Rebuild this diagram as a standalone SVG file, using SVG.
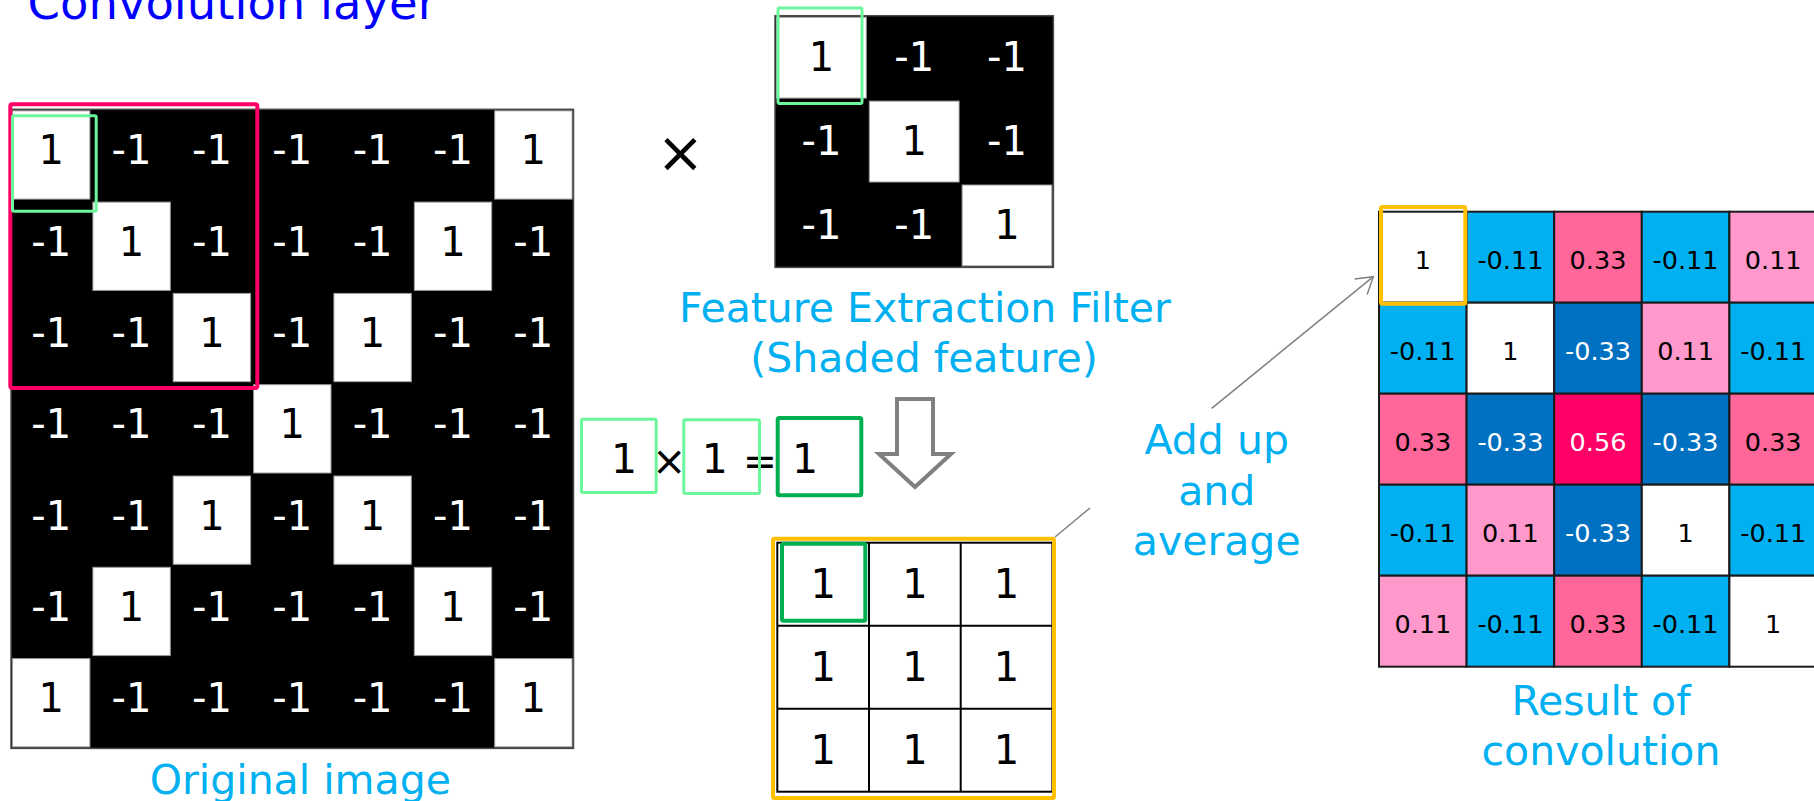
<svg xmlns="http://www.w3.org/2000/svg" width="1814" height="801" viewBox="0 0 1814 801">
  <defs>
    <style>
      text{font-family:"DejaVu Sans",Verdana,sans-serif}
      .d{font-size:40px;text-anchor:middle}
      .on{fill:#000}
      .off{fill:#fff}
      .cellW{fill:#fff;stroke:#9a9a9a;stroke-width:1}
      .gridBg{fill:#000;stroke:#4a4a4a;stroke-width:1.5}
      .lbl{font-size:41px;fill:#00B0F0;text-anchor:middle}
      .r{font-size:25.5px;text-anchor:middle}
      .rc{stroke:#1a1a1a;stroke-width:2}
      .white{fill:#fff}.lb{fill:#00B0F0}.db{fill:#0070C0}.pm{fill:#FF6699}.lp{fill:#FF99CC}.hp{fill:#FF0066}
      .hlPink{fill:none;stroke:#FF0066;stroke-width:4}
      .hlLight{fill:none;stroke:#6CF79C;stroke-width:3}
      .hlDark{fill:none;stroke:#00B050;stroke-width:4}
      .hlGold{fill:none;stroke:#FFC000;stroke-width:4}
      .conn{fill:none;stroke:#808080;stroke-width:1.5}
    </style>
    <marker id="openHead" markerUnits="userSpaceOnUse" markerWidth="20" markerHeight="22" refX="17.1" refY="11" orient="auto">
      <path d="M1,1 L17.1,11 L1,21" fill="none" stroke="#808080" stroke-width="1.5"/>
    </marker>
  </defs>

  <rect width="1814" height="801" fill="#fff"/>

  <g id="title">
    <text x="27.5" y="19" font-size="46.5" fill="#0000FF">Convolution layer</text>
  </g>

  <!-- 7x7 input image -->
  <g id="original-image">
    <rect class="gridBg" x="11" y="109.3" width="562.5" height="639.1"/>
    <rect class="cellW" x="12.5" y="110.8" width="77.4" height="88.3"/>
    <rect class="cellW" x="494.7" y="110.8" width="77.4" height="88.3"/>
    <rect class="cellW" x="92.9" y="202.1" width="77.4" height="88.3"/>
    <rect class="cellW" x="414.3" y="202.1" width="77.4" height="88.3"/>
    <rect class="cellW" x="173.2" y="293.4" width="77.4" height="88.3"/>
    <rect class="cellW" x="333.9" y="293.4" width="77.4" height="88.3"/>
    <rect class="cellW" x="253.6" y="384.7" width="77.4" height="88.3"/>
    <rect class="cellW" x="173.2" y="476" width="77.4" height="88.3"/>
    <rect class="cellW" x="333.9" y="476" width="77.4" height="88.3"/>
    <rect class="cellW" x="92.9" y="567.3" width="77.4" height="88.3"/>
    <rect class="cellW" x="414.3" y="567.3" width="77.4" height="88.3"/>
    <rect class="cellW" x="12.5" y="658.6" width="77.4" height="88.3"/>
    <rect class="cellW" x="494.7" y="658.6" width="77.4" height="88.3"/>
    <g class="d">
      <text class="on" x="51.2" y="164.3">1</text><text class="off" x="131.5" y="164.3">-1</text><text class="off" x="211.9" y="164.3">-1</text><text class="off" x="292.3" y="164.3">-1</text><text class="off" x="372.6" y="164.3">-1</text><text class="off" x="453" y="164.3">-1</text><text class="on" x="533.3" y="164.3">1</text>
      <text class="off" x="51.2" y="255.6">-1</text><text class="on" x="131.5" y="255.6">1</text><text class="off" x="211.9" y="255.6">-1</text><text class="off" x="292.3" y="255.6">-1</text><text class="off" x="372.6" y="255.6">-1</text><text class="on" x="453" y="255.6">1</text><text class="off" x="533.3" y="255.6">-1</text>
      <text class="off" x="51.2" y="346.9">-1</text><text class="off" x="131.5" y="346.9">-1</text><text class="on" x="211.9" y="346.9">1</text><text class="off" x="292.3" y="346.9">-1</text><text class="on" x="372.6" y="346.9">1</text><text class="off" x="453" y="346.9">-1</text><text class="off" x="533.3" y="346.9">-1</text>
      <text class="off" x="51.2" y="438.2">-1</text><text class="off" x="131.5" y="438.2">-1</text><text class="off" x="211.9" y="438.2">-1</text><text class="on" x="292.3" y="438.2">1</text><text class="off" x="372.6" y="438.2">-1</text><text class="off" x="453" y="438.2">-1</text><text class="off" x="533.3" y="438.2">-1</text>
      <text class="off" x="51.2" y="529.5">-1</text><text class="off" x="131.5" y="529.5">-1</text><text class="on" x="211.9" y="529.5">1</text><text class="off" x="292.3" y="529.5">-1</text><text class="on" x="372.6" y="529.5">1</text><text class="off" x="453" y="529.5">-1</text><text class="off" x="533.3" y="529.5">-1</text>
      <text class="off" x="51.2" y="620.8">-1</text><text class="on" x="131.5" y="620.8">1</text><text class="off" x="211.9" y="620.8">-1</text><text class="off" x="292.3" y="620.8">-1</text><text class="off" x="372.6" y="620.8">-1</text><text class="on" x="453" y="620.8">1</text><text class="off" x="533.3" y="620.8">-1</text>
      <text class="on" x="51.2" y="712.1">1</text><text class="off" x="131.5" y="712.1">-1</text><text class="off" x="211.9" y="712.1">-1</text><text class="off" x="292.3" y="712.1">-1</text><text class="off" x="372.6" y="712.1">-1</text><text class="off" x="453" y="712.1">-1</text><text class="on" x="533.3" y="712.1">1</text>
    </g>
    <rect class="hlPink" x="10.3" y="104.3" width="247" height="283.7" rx="2"/>
    <rect class="hlLight" x="12.5" y="115.8" width="83.7" height="95.4" rx="1.5"/>
    <text class="lbl" x="300.3" y="794">Original image</text>
  </g>

  <g id="times-sign">
    <text x="680.5" y="171.5" font-size="57" text-anchor="middle" fill="#000">×</text>
  </g>

  <!-- 3x3 filter -->
  <g id="filter">
    <rect class="gridBg" x="775" y="15.7" width="278.4" height="251.7"/>
    <rect class="cellW" x="776.5" y="17.2" width="89.8" height="80.9"/>
    <rect class="cellW" x="869.3" y="101.1" width="89.8" height="80.9"/>
    <rect class="cellW" x="962.1" y="185" width="89.8" height="80.9"/>
    <g class="d">
      <text class="on" x="821.4" y="70.7">1</text><text class="off" x="914.2" y="70.7">-1</text><text class="off" x="1007" y="70.7">-1</text>
      <text class="off" x="821.4" y="154.6">-1</text><text class="on" x="914.2" y="154.6">1</text><text class="off" x="1007" y="154.6">-1</text>
      <text class="off" x="821.4" y="238.5">-1</text><text class="off" x="914.2" y="238.5">-1</text><text class="on" x="1007" y="238.5">1</text>
    </g>
    <rect class="hlLight" x="778" y="8" width="84" height="95.5" rx="1.5"/>
    <text class="lbl" x="925" y="321.7">Feature Extraction Filter</text>
    <text class="lbl" x="924" y="372">(Shaded feature)</text>
  </g>

  <!-- element-wise product of one cell -->
  <g id="cell-product">
    <g font-size="41" text-anchor="middle" fill="#000">
      <text x="624" y="473.3">1</text>
      <text x="669.3" y="474.5">×</text>
      <text x="714.7" y="473.3">1</text>
      <text x="760" y="474.5">=</text>
      <text x="805" y="473.3">1</text>
    </g>
    <rect class="hlLight" x="581.5" y="419.2" width="74.7" height="73.3" rx="1.5"/>
    <rect class="hlLight" x="683.8" y="419.8" width="75.7" height="73.7" rx="1.5"/>
    <rect class="hlDark" x="777.7" y="418" width="83.6" height="77.3" rx="1.5"/>
  </g>

  <g id="down-arrow">
    <polygon points="897,399 933,399 933,454 951,454 915,487 879,454 897,454" fill="#fff" stroke="#808080" stroke-width="4" stroke-linejoin="miter"/>
  </g>

  <!-- 3x3 product map -->
  <g id="product-map">
    <rect x="777.3" y="542.7" width="275.1" height="249" fill="#fff" stroke="#000" stroke-width="2"/>
    <path d="M869,542.7V791.7M960.7,542.7V791.7M777.3,625.7H1052.4M777.3,708.7H1052.4" stroke="#000" stroke-width="2"/>
    <g class="d">
      <text class="on" x="823.2" y="598">1</text><text class="on" x="914.9" y="598">1</text><text class="on" x="1006.6" y="598">1</text>
      <text class="on" x="823.2" y="681">1</text><text class="on" x="914.9" y="681">1</text><text class="on" x="1006.6" y="681">1</text>
      <text class="on" x="823.2" y="764">1</text><text class="on" x="914.9" y="764">1</text><text class="on" x="1006.6" y="764">1</text>
    </g>
    <rect class="hlDark" x="782" y="543.7" width="83.3" height="77" rx="1.5"/>
    <rect class="hlGold" x="773" y="538.7" width="281" height="259.3" rx="1.5"/>
  </g>

  <g id="average-label">
    <text class="lbl" x="1216.7" y="454">Add up</text>
    <text class="lbl" x="1216.7" y="505">and</text>
    <text class="lbl" x="1216.7" y="555">average</text>
  </g>

  <!-- feature map after convolution -->
  <g id="result-map">
    <rect class="rc white" x="1379" y="211.7" width="87.6" height="91"/>
    <rect class="rc lb" x="1466.6" y="211.7" width="87.6" height="91"/>
    <rect class="rc pm" x="1554.2" y="211.7" width="87.6" height="91"/>
    <rect class="rc lb" x="1641.8" y="211.7" width="87.6" height="91"/>
    <rect class="rc lp" x="1729.4" y="211.7" width="87.6" height="91"/>
    <rect class="rc lb" x="1379" y="302.7" width="87.6" height="91"/>
    <rect class="rc white" x="1466.6" y="302.7" width="87.6" height="91"/>
    <rect class="rc db" x="1554.2" y="302.7" width="87.6" height="91"/>
    <rect class="rc lp" x="1641.8" y="302.7" width="87.6" height="91"/>
    <rect class="rc lb" x="1729.4" y="302.7" width="87.6" height="91"/>
    <rect class="rc pm" x="1379" y="393.7" width="87.6" height="91"/>
    <rect class="rc db" x="1466.6" y="393.7" width="87.6" height="91"/>
    <rect class="rc hp" x="1554.2" y="393.7" width="87.6" height="91"/>
    <rect class="rc db" x="1641.8" y="393.7" width="87.6" height="91"/>
    <rect class="rc pm" x="1729.4" y="393.7" width="87.6" height="91"/>
    <rect class="rc lb" x="1379" y="484.7" width="87.6" height="91"/>
    <rect class="rc lp" x="1466.6" y="484.7" width="87.6" height="91"/>
    <rect class="rc db" x="1554.2" y="484.7" width="87.6" height="91"/>
    <rect class="rc white" x="1641.8" y="484.7" width="87.6" height="91"/>
    <rect class="rc lb" x="1729.4" y="484.7" width="87.6" height="91"/>
    <rect class="rc lp" x="1379" y="575.7" width="87.6" height="91"/>
    <rect class="rc lb" x="1466.6" y="575.7" width="87.6" height="91"/>
    <rect class="rc pm" x="1554.2" y="575.7" width="87.6" height="91"/>
    <rect class="rc lb" x="1641.8" y="575.7" width="87.6" height="91"/>
    <rect class="rc white" x="1729.4" y="575.7" width="87.6" height="91"/>
    <g class="r">
      <text class="on" x="1422.8" y="269.2">1</text><text class="on" x="1510.4" y="269.2">-0.11</text><text class="on" x="1598" y="269.2">0.33</text><text class="on" x="1685.6" y="269.2">-0.11</text><text class="on" x="1773.2" y="269.2">0.11</text>
      <text class="on" x="1422.8" y="360.2">-0.11</text><text class="on" x="1510.4" y="360.2">1</text><text class="off" x="1598" y="360.2">-0.33</text><text class="on" x="1685.6" y="360.2">0.11</text><text class="on" x="1773.2" y="360.2">-0.11</text>
      <text class="on" x="1422.8" y="451.2">0.33</text><text class="off" x="1510.4" y="451.2">-0.33</text><text class="off" x="1598" y="451.2">0.56</text><text class="off" x="1685.6" y="451.2">-0.33</text><text class="on" x="1773.2" y="451.2">0.33</text>
      <text class="on" x="1422.8" y="542.2">-0.11</text><text class="on" x="1510.4" y="542.2">0.11</text><text class="off" x="1598" y="542.2">-0.33</text><text class="on" x="1685.6" y="542.2">1</text><text class="on" x="1773.2" y="542.2">-0.11</text>
      <text class="on" x="1422.8" y="633.2">0.11</text><text class="on" x="1510.4" y="633.2">-0.11</text><text class="on" x="1598" y="633.2">0.33</text><text class="on" x="1685.6" y="633.2">-0.11</text><text class="on" x="1773.2" y="633.2">1</text>
    </g>
    <rect class="hlGold" x="1381" y="207" width="84.3" height="96.7" rx="1.5"/>
    <text class="lbl" x="1601" y="715">Result of</text>
    <text class="lbl" x="1601" y="765">convolution</text>
  </g>

  <g id="connectors">
    <line class="conn" x1="1055" y1="537" x2="1090" y2="508"/>
    <line class="conn" x1="1211.7" y1="408.3" x2="1373.3" y2="276.7" marker-end="url(#openHead)"/>
  </g>
</svg>
